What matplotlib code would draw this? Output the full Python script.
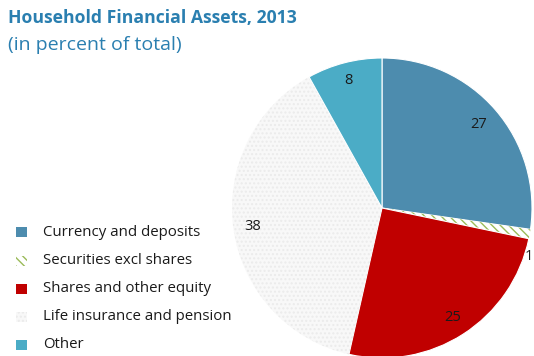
import numpy as np
import matplotlib.pyplot as plt
from matplotlib.patches import Rectangle

plt.rcParams['font.family'] = ['Open Sans', 'DejaVu Sans']
plt.rcParams['hatch.linewidth'] = 1.0

categories = ["Currency and deposits", "Securities excl shares",
              "Shares and other equity", "Life insurance and pension", "Other"]
values = [27, 1, 25, 38, 8]
colors = ["#4d8cae", "#ffffff", "#c00000", "#f8f8f8", "#4bacc6"]
hatches = [None, "\\\\\\\\", None, "....", None]
hatch_colors = ["#ffffff", "#9bbb59", "#ffffff", "#ebebeb", "#ffffff"]
label_dist = [0.85, 1.0, 0.87, 0.87, 0.88]

W, H = 534, 356
fig = plt.figure(figsize=(W / 100, H / 100), dpi=100)

# pie axes: centre (382, 208) px, radius 150 px
cx, cy, r = 382, 208, 150
ax = fig.add_axes([(cx - r) / W, (H - cy - r) / H, 2 * r / W, 2 * r / H])
wedges, _ = ax.pie(values, colors=colors, startangle=90, counterclock=False,
                   radius=1.0, wedgeprops=dict(linewidth=0.8))
for w, h, ec in zip(wedges, hatches, hatch_colors):
    w.set_edgecolor(ec)
    if h:
        w.set_hatch(h)
        w.set_linewidth(0)

# value labels; the thin slice gets its label just outside the rim
for w, v, d in zip(wedges, values, label_dist):
    ang = np.deg2rad((w.theta1 + w.theta2) / 2)
    if d >= 1:
        ax.text(1.005, -0.32, str(v), ha="right", va="center",
                fontsize=10.5, color="#1a1a1a")
    else:
        ax.text(d * np.cos(ang), d * np.sin(ang), str(v), ha="center",
                va="center", fontsize=10.5, color="#1a1a1a")
ax.set_xlim(-1, 1)
ax.set_ylim(-1, 1)
ax.set_aspect("equal")
ax.axis("off")

# overlay in pixel coordinates for titles and legend
ov = fig.add_axes([0, 0, 1, 1], zorder=-1)
ov.set_xlim(0, W)
ov.set_ylim(H, 0)
ov.axis("off")

ov.text(8, 18, "Household Financial Assets, 2013", fontsize=12.7,
        fontweight="bold", color="#2a7fb0", va="center", ha="left")
ov.text(8, 45, "(in percent of total)", fontsize=14,
        color="#2a7fb0", va="center", ha="left")

row_y = [232, 261, 289, 317, 345]
for cat, col, h, hc, y in zip(categories, colors, hatches, hatch_colors, row_y):
    sq = Rectangle((16, y - 5.5), 10.5, 10.5, facecolor=col,
                   edgecolor=hc if h else "none", hatch=h, linewidth=0)
    ov.add_patch(sq)
    ov.text(43, y, cat, fontsize=10.8, color="#1a1a1a", va="center", ha="left")

fig.savefig("out.png", dpi=100)
